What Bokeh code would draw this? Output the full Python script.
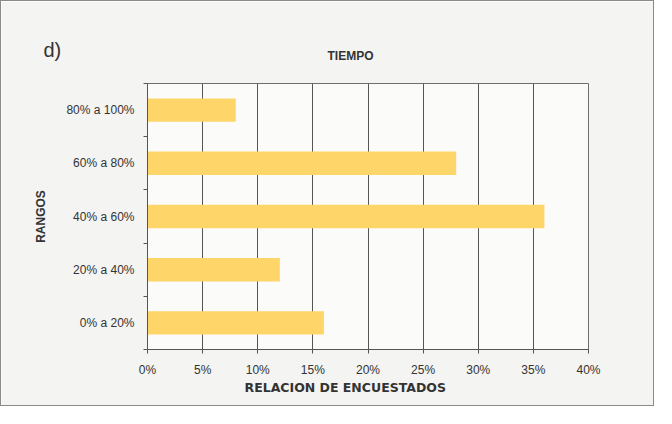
from bokeh.plotting import figure
from bokeh.models import Range1d, FixedTicker, Title
from bokeh.embed import file_html
from bokeh.resources import INLINE

# ---- data ----
rangos = ["0% a 20%", "20% a 40%", "40% a 60%", "60% a 80%", "80% a 100%"]
relacion = [16, 12, 36, 28, 8]          # percent of respondents
x_ticks = [0, 5, 10, 15, 20, 25, 30, 35, 40]
x_tick_labels = ["0%", "5%", "10%", "15%", "20%", "25%", "30%", "35%", "40%"]
titulo = "TIEMPO"
panel = "d)"
x_title = "RELACION DE ENCUESTADOS"
y_title = "RANGOS"

FONT = "Liberation Sans"
ypos = [i + 1 for i in range(len(rangos))]

W, H = 654, 406
p = figure(width=W, height=H, output_backend="svg", toolbar_location=None,
           x_range=Range1d(0, 40), y_range=Range1d(0.5, len(rangos) + 0.5),
           min_border_left=146, min_border_right=67, min_border_top=82,
           min_border_bottom=58)
p.styles = {"border": "1px solid #8a8a8a"}
p.background_fill_color = "#fbfbfa"
p.border_fill_color = "#f4f4f2"
p.outline_line_color = "#6e6e6e"
p.outline_line_width = 1

p.hbar(y=ypos, right=relacion, left=0, height=0.44, color="#fdd569", line_color=None)

# titles (p.title is the outermost one)
p.title.text = panel
p.title.align = "left"
p.title.offset = -104
p.title.text_font = FONT
p.title.text_font_size = "20px"
p.title.text_font_style = "normal"
p.title.text_color = "#333333"
p.title.standoff = -70
p.add_layout(Title(text=titulo, align="left", offset=180, text_font=FONT,
                   text_font_size="12px", text_font_style="bold",
                   text_color="#333333", standoff=42), "above")
p.add_layout(Title(text=x_title, align="left", offset=97, text_font="DejaVu Sans",
                   text_font_size="12.5px", text_font_style="bold",
                   text_color="#333333", standoff=-4), "below")

# x axis
p.xaxis.ticker = FixedTicker(ticks=x_ticks)
p.xaxis.major_label_overrides = {t: l for t, l in zip(x_ticks, x_tick_labels)}
p.xaxis.minor_tick_line_color = None
p.xaxis.major_tick_in = 0
p.xaxis.major_tick_out = 4
p.xaxis.major_label_standoff = 9
p.xaxis.axis_line_color = "#555555"
p.xaxis.major_tick_line_color = "#555555"
p.xaxis.major_label_text_font = FONT
p.xaxis.major_label_text_font_size = "12px"
p.xaxis.major_label_text_color = "#333333"

# y axis: labels at bar centres, ticks at category boundaries
bounds = [i + 0.5 for i in range(len(rangos) + 1)]
p.yaxis.ticker = FixedTicker(ticks=ypos, minor_ticks=bounds)
p.yaxis.major_label_overrides = {t: l for t, l in zip(ypos, rangos)}
p.yaxis.major_tick_line_color = None
p.yaxis.major_tick_in = 0
p.yaxis.major_tick_out = 0
p.yaxis.minor_tick_in = 0
p.yaxis.minor_tick_out = 4
p.yaxis.minor_tick_line_color = "#555555"
p.yaxis.major_label_standoff = 9
p.yaxis.axis_line_color = "#555555"
p.yaxis.major_label_text_font = FONT
p.yaxis.major_label_text_font_size = "12px"
p.yaxis.major_label_text_color = "#333333"
p.yaxis.axis_label = y_title
p.yaxis.axis_label_text_font = FONT
p.yaxis.axis_label_text_font_style = "bold"
p.yaxis.axis_label_text_font_size = "12px"
p.yaxis.axis_label_text_color = "#333333"
p.yaxis.axis_label_standoff = 15

p.xgrid.ticker = FixedTicker(ticks=x_ticks)
p.xgrid.grid_line_color = "#555555"
p.xgrid.grid_line_alpha = 1
p.ygrid.visible = False

open("out.html", "w").write(file_html(p, INLINE))
